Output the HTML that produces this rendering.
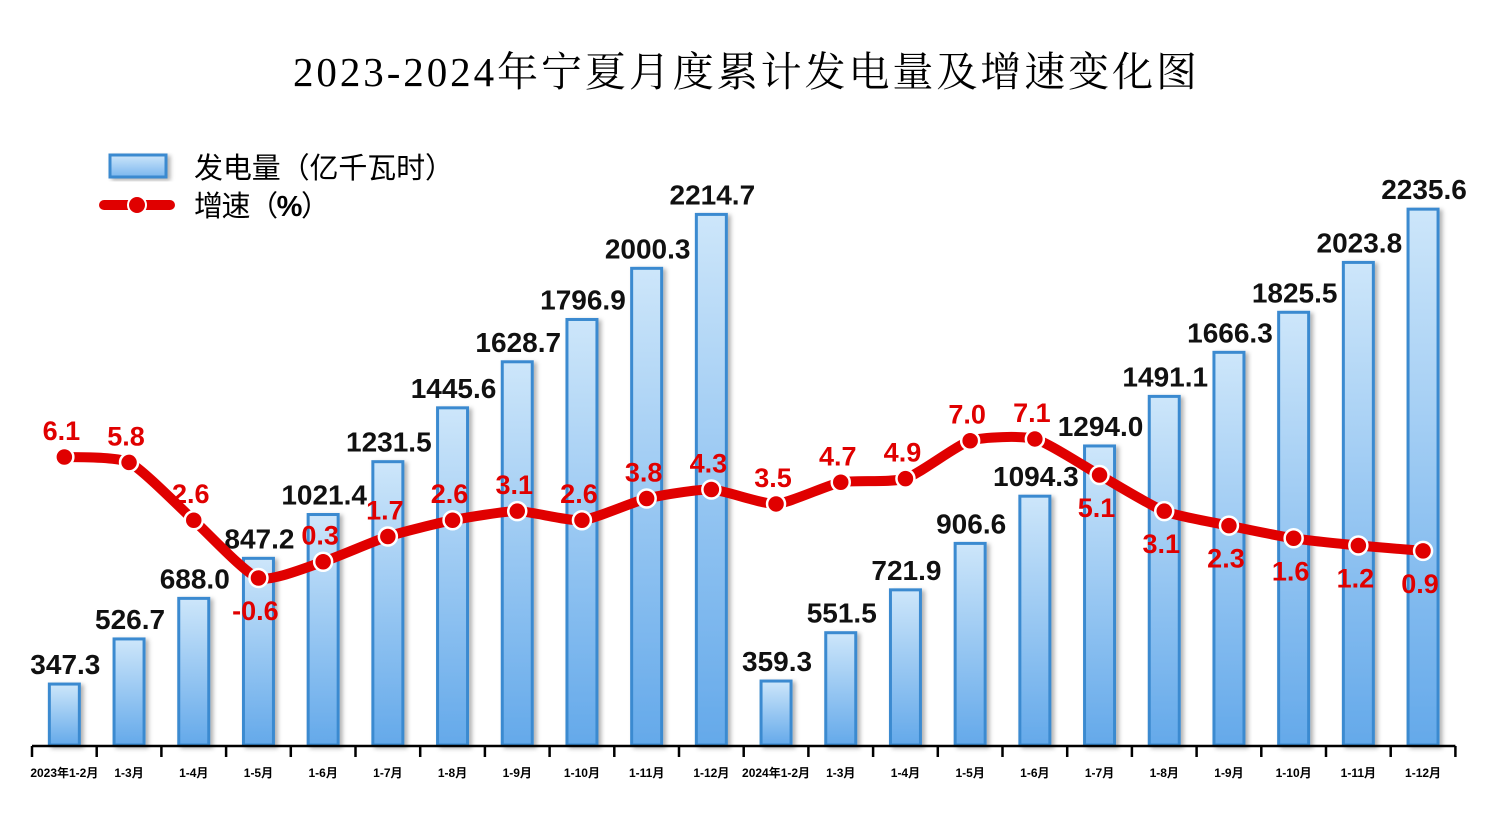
<!DOCTYPE html>
<html><head><meta charset="utf-8">
<style>
html,body{margin:0;padding:0;background:#fff;}
svg{display:block;font-family:"Liberation Sans","Noto Sans CJK SC",sans-serif;}
</style></head>
<body>
<svg id="chart" width="1491" height="814" viewBox="0 0 1491 814">
<defs>
<linearGradient id="bg" x1="0" y1="0" x2="0" y2="1">
<stop offset="0" stop-color="#cde6fa"/><stop offset="1" stop-color="#64a9ea"/></linearGradient>
<linearGradient id="lg" x1="0" y1="0" x2="0" y2="1">
<stop offset="0" stop-color="#cde6fa"/><stop offset="1" stop-color="#7ab6ee"/></linearGradient>
<filter id="sh" x="-30%" y="-10%" width="160%" height="130%"><feDropShadow dx="3" dy="2" stdDeviation="2" flood-color="#000" flood-opacity="0.3"/></filter>
</defs>
<text x="293" y="86" textLength="904" lengthAdjust="spacing" font-size="41" font-family="'Liberation Serif','Noto Serif CJK SC',serif" fill="#000">2023-2024年宁夏月度累计发电量及增速变化图</text>
<g>
<rect x="110" y="155" width="56" height="22" fill="url(#lg)" stroke="#3a8ad0" stroke-width="3" filter="url(#sh)"/>
<text x="194" y="178" textLength="260" lengthAdjust="spacing" font-size="29" fill="#000">发电量（亿千瓦时）</text>
<line x1="104" y1="205" x2="170" y2="205" stroke="#e00000" stroke-width="10" stroke-linecap="round"/>
<circle cx="137" cy="205" r="9" fill="#e00000" stroke="#fff" stroke-width="2"/>
<text x="194" y="216" textLength="136" lengthAdjust="spacing" font-size="29" fill="#000">增速（<tspan font-weight="bold">%</tspan>）</text>
</g>
<g id="bars"></g><g id="axis"></g><g id="line"></g>
</svg>
<script>
const categories=["2023年1-2月","1-3月","1-4月","1-5月","1-6月","1-7月","1-8月","1-9月","1-10月","1-11月","1-12月","2024年1-2月","1-3月","1-4月","1-5月","1-6月","1-7月","1-8月","1-9月","1-10月","1-11月","1-12月"];
const generation=[347.3,526.7,688.0,847.2,1021.4,1231.5,1445.6,1628.7,1796.9,2000.3,2214.7,359.3,551.5,721.9,906.6,1094.3,1294.0,1491.1,1666.3,1825.5,2023.8,2235.6];
const growth=[6.1,5.8,2.6,-0.6,0.3,1.7,2.6,3.1,2.6,3.8,4.3,3.5,4.7,4.9,7.0,7.1,5.1,3.1,2.3,1.6,1.2,0.9];
const growthLabelBelow=[0,0,0,1,0,0,0,0,0,0,0,0,0,0,0,0,1,1,1,1,1,1];
const NS="http://www.w3.org/2000/svg";
const axisY=746, x0=32, step=64.7;
const xc=i=>x0+step*(i+0.5);
const yBar=v=>axisY-(v-101)*0.2515;
const yLine=v=>457-(v-6.1)*18.06;
function mk(t,a,p){const e=document.createElementNS(NS,t);for(const k in a)e.setAttribute(k,a[k]);p.appendChild(e);return e;}
const gb=document.getElementById('bars'),ga=document.getElementById('axis'),gl=document.getElementById('line');
generation.forEach((v,i)=>{
 const y=yBar(v);
 const r=mk('rect',{x:xc(i)-15,y:y,width:30,height:axisY-y-1,fill:'url(#bg)',stroke:'#3a8ad0','stroke-width':3,filter:'url(#sh)'},gb);
 
 
 const t=mk('text',{x:xc(i)+1,y:y-10,'text-anchor':'middle','font-size':28,'font-weight':'bold',fill:'#111'},gb);
 t.textContent=v.toFixed(1);
 
 
});
const al=mk('line',{x1:x0,y1:axisY,x2:x0+step*22,y2:axisY,stroke:'#000','stroke-width':2.5},ga);


for(let i=0;i<=22;i++){
 const tk=mk('line',{x1:x0+step*i,y1:axisY,x2:x0+step*i,y2:axisY+11,stroke:'#000','stroke-width':2.5},ga);
 
 
}
categories.forEach((c,i)=>{
 const t=mk('text',{x:xc(i),y:777,'text-anchor':'middle','font-size':12,'font-weight':'bold',fill:'#000'},ga);
 t.textContent=c;
 
 
});
const pts=growth.map((v,i)=>[xc(i),yLine(v)]);
let d='M'+pts[0][0]+','+pts[0][1];
const k=0.1;
for(let i=1;i<pts.length;i++){
 const p0=pts[Math.max(i-2,0)],p1=pts[i-1],p2=pts[i],p3=pts[Math.min(i+1,pts.length-1)];
 const c1=[p1[0]+(p2[0]-p0[0])*k,p1[1]+(p2[1]-p0[1])*k];
 const c2=[p2[0]-(p3[0]-p1[0])*k,p2[1]-(p3[1]-p1[1])*k];
 d+=' C'+c1[0]+','+c1[1]+' '+c2[0]+','+c2[1]+' '+p2[0]+','+p2[1];
}
const pl=mk('path',{d:d,fill:'none',stroke:'#e00000','stroke-width':10,'stroke-linejoin':'round'},gl);


growth.forEach((v,i)=>{
 const c=mk('circle',{cx:pts[i][0],cy:pts[i][1],r:9,fill:'#e00000',stroke:'#fff','stroke-width':2.5},gl);
 
 
 const t=mk('text',{x:pts[i][0]-3,y:pts[i][1]+(growthLabelBelow[i]?42:-17),'text-anchor':'middle','font-size':27,'font-weight':'bold',fill:'#e00000'},gl);
 t.textContent=v.toFixed(1);
 
 
});
</script>
</body></html>
